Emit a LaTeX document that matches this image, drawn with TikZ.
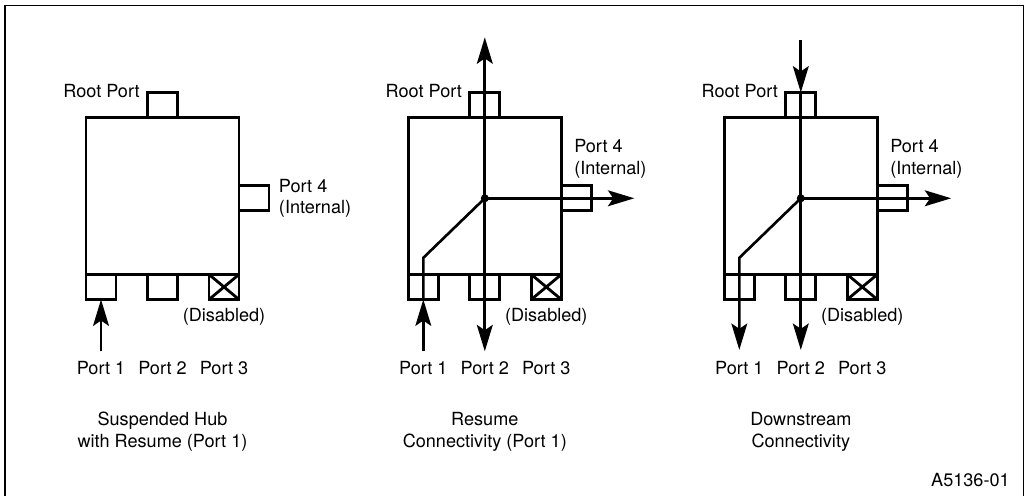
\documentclass[tikz,border=0pt]{standalone}
\usepackage{fontspec}
\setmainfont{TeX Gyre Heros}
\usetikzlibrary{positioning, arrows.meta}
\tikzset{
hub/.style={
       draw, line width=1.6pt,
       minimum width=3.06cm,
       minimum height=3.14cm,
       inner sep=0pt, outer sep=0pt,
       },
port/.style={
       draw, line width=1.6pt,
       minimum width=0.6cm,
       minimum height=0.5cm,
       inner sep=0pt, outer sep=0pt,
       },
disabled/.style={
       port,
       path picture={\draw[line width=1.6pt]
           (path picture bounding box.north west) -- (path picture bounding box.south east)
           (path picture bounding box.north east) -- (path picture bounding box.south west);},
       },
lbl/.style={inner sep=0pt, font=\fontsize{10.3}{12.3}\selectfont},
wire/.style={line width=1.5pt},
flow/.style={wire, -{Stealth[length=15pt, width=9pt, inset=3pt]}},
}

\begin{document}
\begin{tikzpicture}[x=0.02cm, y=-0.02cm]
    \useasboundingbox (0,0) rectangle (1031,496);
    \draw[line width=1pt] (5,505) -- (5,5.5) -- (1023.5,5.5) -- (1023.5,505);

    % three hubs with their ports
    \foreach \i/\c in {1/162.5, 2/484.8, 3/800.8} {
        \node [hub] (hub\i) at (\c,196) {};
        \node [port, above=0pt of hub\i] (root\i) {};
        \node [port, anchor=north west] (pa\i) at (hub\i.south west) {};
        \node [port, anchor=north] (pb\i) at (hub\i.south) {};
        \node [disabled, anchor=north east] (pc\i) at (hub\i.south east) {};
        \node [port, anchor=west] (pd\i) at ([yshift=-1.3pt]hub\i.east) {};
        \node [lbl, anchor=base east] (rootlbl\i) at ([xshift=-4.3pt, yshift=-2.6pt]root\i.north west) {Root Port};
        \node [lbl, below=5pt of pc\i] (dis\i) {(Disabled)};
        \node [lbl, below=35pt of pa\i] (la\i) {Port 1};
        \node [lbl, below=35pt of pb\i] (lb\i) {Port 2};
        \node [lbl, below=35pt of pc\i] (lc\i) {Port 3};
    }

    % labels of port 4 and captions
    \node [lbl, align=left, right=5.5pt of pd1] (p4lbl1) {Port 4\\(Internal)};
    \node [lbl, align=left, anchor=south west] (p4lbl2) at ([xshift=7.2pt, yshift=4.2pt]pd2.north west) {Port 4\\(Internal)};
    \node [lbl, align=left, anchor=south west] (p4lbl3) at ([xshift=7.2pt, yshift=4.2pt]pd3.north west) {Port 4\\(Internal)};
    \node [lbl, align=center, below=21pt of lb1] (cap1) {Suspended Hub\\with Resume (Port 1)};
    \node [lbl, align=center, below=21pt of lb2] (cap2) {Resume\\Connectivity (Port 1)};
    \node [lbl, align=center, below=21pt of lb3] (cap3) {Downstream\\Connectivity};
    \node [lbl, anchor=east] (figid) at (1010,480) {A5136-01};

    % suspended hub
    \coordinate (in1) at ([yshift=-29.5pt]pa1.south);
    \draw[flow] (in1) -- (pa1.south);

    % resume connectivity
    \coordinate (mid2) at (hub2.center |- pd2.center);
    \coordinate (up2) at ([yshift=31.4pt]root2.north);
    \coordinate (down2) at ([yshift=-29.5pt]pb2.south);
    \coordinate (right2) at ([xshift=24.5pt]pd2.east);
    \coordinate (bend2) at ([yshift=9.5pt]pa2.north);
    \coordinate (in2) at ([yshift=-29.5pt]pa2.south);
    \draw[flow] (mid2) -- (up2);
    \draw[flow] (mid2) -- (down2);
    \draw[flow] (mid2) -- (right2);
    \draw[wire] (mid2) -- (bend2) -- (pa2.south);
    \draw[flow] (in2) -- (pa2.south);
    \fill (mid2) circle (2.3pt);

    % downstream connectivity
    \coordinate (mid3) at (hub3.center |- pd3.center);
    \coordinate (src3) at ([yshift=29.9pt]root3.north);
    \coordinate (down3) at ([yshift=-28.7pt]pb3.south);
    \coordinate (right3) at ([xshift=25pt]pd3.east);
    \coordinate (bend3) at ([yshift=9.5pt]pa3.north);
    \coordinate (out3) at ([yshift=-28.7pt]pa3.south);
    \draw[flow] (src3) -- (root3.north);
    \draw[wire] (root3.north) -- (mid3);
    \draw[flow] (mid3) -- (down3);
    \draw[flow] (mid3) -- (right3);
    \draw[flow] (mid3) -- (bend3) -- (out3);
    \fill (mid3) circle (2.3pt);
\end{tikzpicture}
\end{document}
